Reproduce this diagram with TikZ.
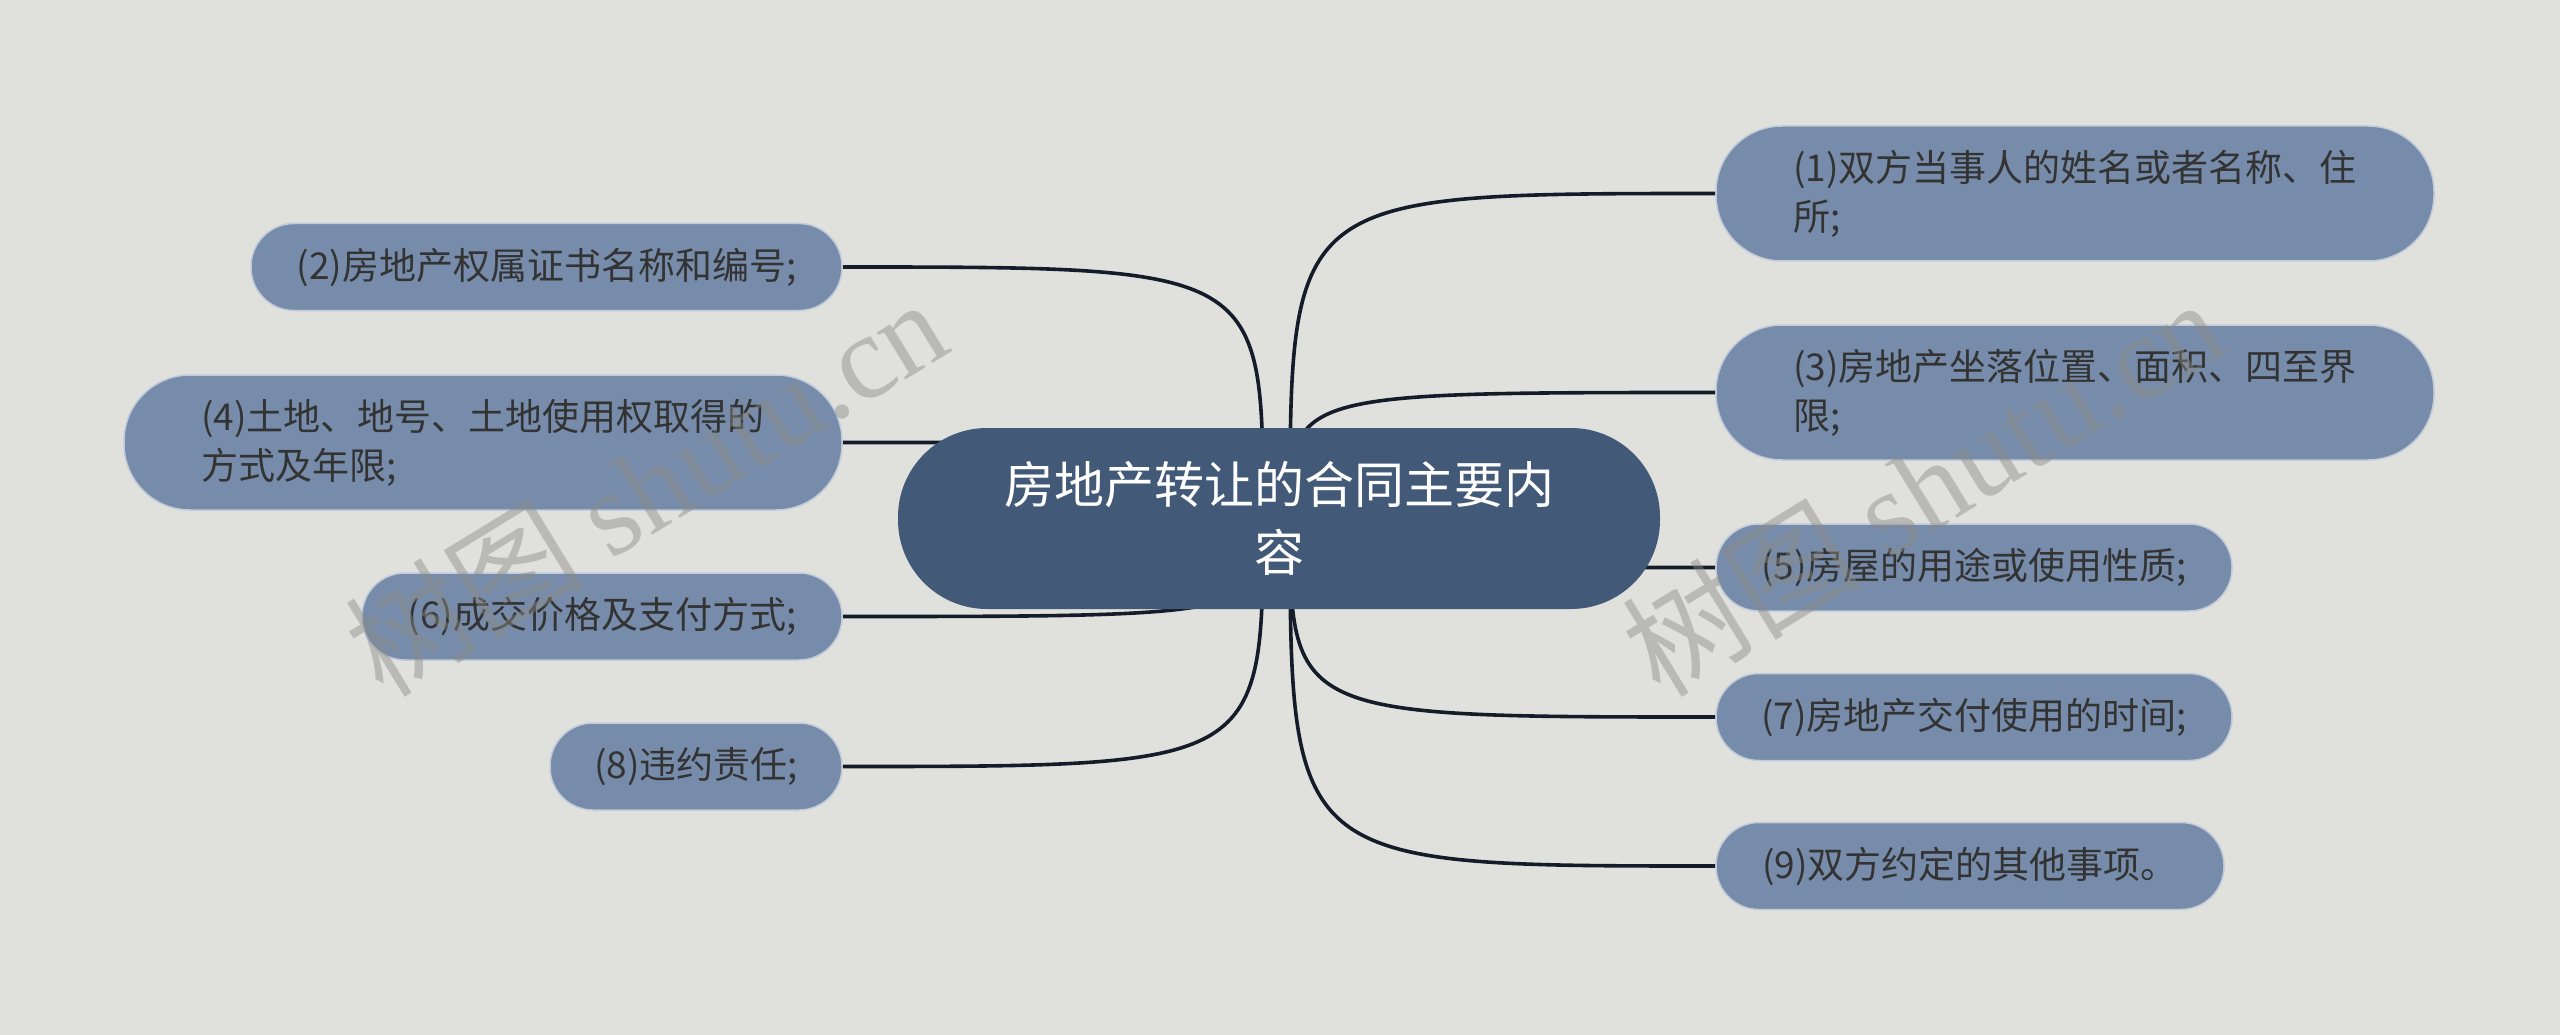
\documentclass[tikz,border=0pt]{standalone}
\usepackage{fontspec}
\setmainfont{Noto Sans CJK SC}
\newfontfamily\wmlatin{Liberation Serif}
\definecolor{bgc}{HTML}{E0E1DC}
\definecolor{leafc}{HTML}{778CAA}
\definecolor{rootc}{HTML}{425A78}
\definecolor{linec}{HTML}{141C2A}
\definecolor{txtc}{HTML}{333333}
\definecolor{wmc}{HTML}{8A8A86}
\pgfdeclarelayer{back}
\pgfdeclarelayer{links}
\pgfsetlayers{back,links,main}
\begin{document}
\begin{tikzpicture}[x=1pt,y=-1pt,
  leafbox/.style={fill=leafc, draw=white!55!leafc, line width=1.5pt, text=txtc,
    font=\fontsize{37}{49}\selectfont, inner sep=0pt, align=left},
  onebox/.style={leafbox, minimum height=87pt, rounded corners=43pt},
  twobox/.style={leafbox, minimum width=718pt, minimum height=135pt, rounded corners=66pt},
  rootbox/.style={fill=rootc, text=white, font=\fontsize{50}{68}\selectfont,
    inner sep=0pt, align=center, minimum width=762pt, minimum height=181pt, rounded corners=89pt},
  link/.style={draw=linec, line width=3.6pt},
  wm/.style={text=wmc, opacity=0.45, font=\fontsize{120}{120}\selectfont, inner sep=0pt}]
\useasboundingbox (0,0) rectangle (2560,1035);
\begin{pgfonlayer}{back}
\fill[bgc] (0,0) rectangle (2560,1035);
\end{pgfonlayer}

\node[rootbox] (root) at (1279,518.5) {房地产转让的合同主要内\\容};
\coordinate (R) at (1290,519);
\coordinate (L) at (1263,516);

% right side
\node[twobox] (n1) at (2075,193.5) {(1)双方当事人的姓名或者名称、住\\所;};
\node[twobox] (n3) at (2075,392.5) {(3)房地产坐落位置、面积、四至界\\限;};
\node[onebox, minimum width=516pt] (n5) at (1974,567.5) {(5)房屋的用途或使用性质;};
\node[onebox, minimum width=516pt] (n7) at (1974,717) {(7)房地产交付使用的时间;};
\node[onebox, minimum width=508pt] (n9) at (1970,866) {(9)双方约定的其他事项。};

% left side
\node[onebox, minimum width=591pt] (n2) at (546.5,267) {(2)房地产权属证书名称和编号;};
\node[twobox] (n4) at (483,442.5) {(4)土地、地号、土地使用权取得的\\方式及年限;};
\node[onebox, minimum width=480pt] (n6) at (602,616.5) {(6)成交价格及支付方式;};
\node[onebox, minimum width=292pt] (n8) at (696,766.5) {(8)违约责任;};

\begin{pgfonlayer}{links}
\foreach \n in {n1,n3,n5,n7,n9}
  \draw[link] (R) .. controls (R |- \n.west) .. (\n.west);
\foreach \n in {n2,n4,n6,n8}
  \draw[link] (L) .. controls (L |- \n.east) .. (\n.east);
\end{pgfonlayer}

% watermarks
\node[wm, rotate=31.5, anchor=base west] (wm1) at (383,700) {树图 {\wmlatin shutu.cn}};
\node[wm, rotate=31.5, anchor=base west] (wm2) at (1660,700) {树图 {\wmlatin shutu.cn}};
\end{tikzpicture}
\end{document}
